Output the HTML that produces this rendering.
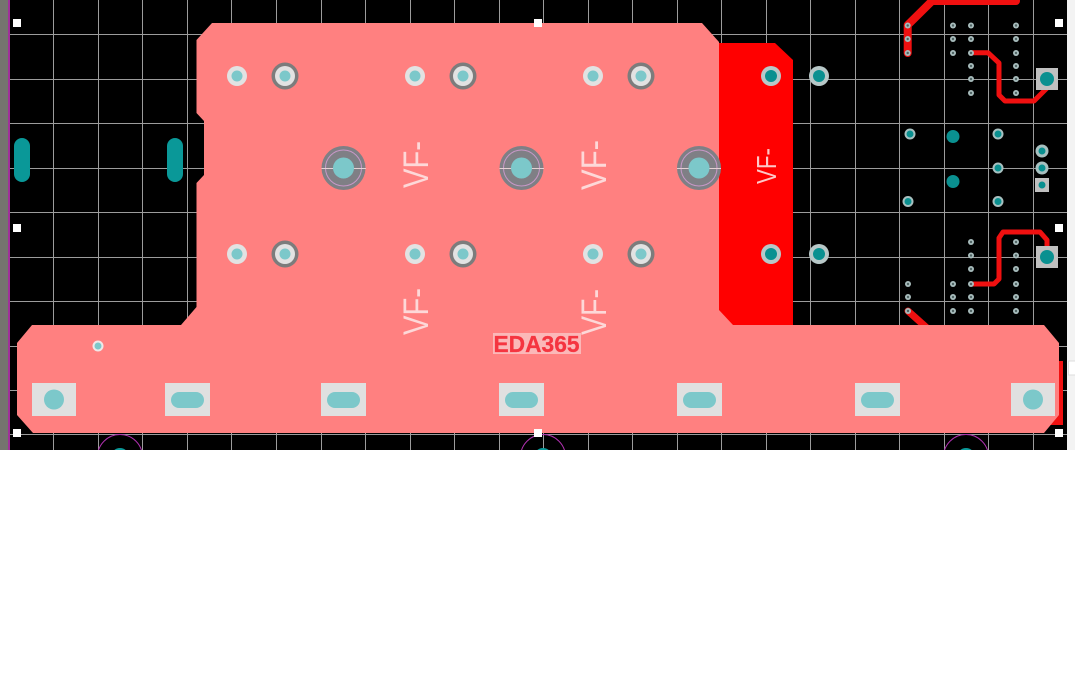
<!DOCTYPE html>
<html><head><meta charset="utf-8"><style>
html,body{margin:0;padding:0;background:#fff;width:1075px;height:687px;overflow:hidden}
svg{display:block;position:absolute;left:0;top:0}
text{font-family:"Liberation Sans",sans-serif}
</style></head><body>
<svg width="1075" height="687" viewBox="0 0 1075 687" xmlns="http://www.w3.org/2000/svg">
<defs><clipPath id="c"><rect x="10" y="0" width="1057" height="450"/></clipPath></defs>
<rect x="0" y="0" width="1075" height="450" fill="#000"/>
<rect x="0" y="0" width="8" height="450" fill="#74746e"/>
<rect x="8" y="0" width="2" height="450" fill="#a0309a"/>
<rect x="1067" y="0" width="8" height="450" fill="#f3f3f3"/>
<rect x="1068.500" y="361" width="7" height="14" fill="#fff" stroke="#ddd"/>
<g stroke="#9c9c9c" stroke-width="1" shape-rendering="crispEdges">
<path d="M53.500 0V450M98.500 0V450M142.500 0V450M187.500 0V450M231.500 0V450M276.500 0V450M321.500 0V450M365.500 0V450M410.500 0V450M454.500 0V450M499.500 0V450M543.500 0V450M588.500 0V450M632.500 0V450M677.500 0V450M721.500 0V450M766.500 0V450M810.500 0V450M855.500 0V450M899.500 0V450M944.500 0V450M988.500 0V450M1033.500 0V450"/>
<path d="M10 34.500H1067M10 79.500H1067M10 123.500H1067M10 168.500H1067M10 212.500H1067M10 257.500H1067M10 301.500H1067M10 346.500H1067M10 390.500H1067M10 434.500H1067"/>
</g>
<g clip-path="url(#c)">
<circle cx="120" cy="457" r="22.500" fill="none" stroke="#b030b0" stroke-width="1"/>
<circle cx="543" cy="457" r="22.500" fill="none" stroke="#b030b0" stroke-width="1"/>
<circle cx="966" cy="457" r="22.500" fill="none" stroke="#b030b0" stroke-width="1"/>
<circle cx="120" cy="457" r="9" fill="#0a9898"/>
<circle cx="543" cy="457" r="9" fill="#0a9898"/>
<circle cx="966" cy="457" r="9" fill="#0a9898"/>
</g>
<rect x="14" y="138" width="16" height="44" rx="8" fill="#0a9898"/>
<rect x="167" y="138" width="16" height="44" rx="8" fill="#0a9898"/>
<!-- red copper -->
<polygon points="719,43 775,43 793,60 793,330 719,330" fill="#ff0000"/>
<polygon points="1059,361 1063,361 1063,425 1045,425 1044,410" fill="#f01010"/>
<!-- traces -->
<g fill="none" stroke="#f01010" stroke-linejoin="round" stroke-linecap="round">
<path d="M907.700 53V25L932 1H1016" stroke-width="8"/>
<path d="M971 52.700H988L999 63V95L1005 101H1034L1047 88" stroke-width="5"/>
<path d="M971 284H994L999 279V238L1003 232H1040L1047 240V252" stroke-width="5"/>
<path d="M908 311L927 328" stroke-width="7"/>
</g>
<!-- pour -->
<polygon points="212,23 702,23 719,42 719,310 733,325 1044,325 1059,343 1059,415 1044,433 33,433 17,415 17,343 32,325 181,325 196.500,307 196.500,183 204,175 204,121 196.500,113 196.500,40" fill="#ff8080"/>
<!-- plated pads on pour -->
<g>
<g fill="#e2e2e2"><circle cx="237" cy="76" r="10"/><circle cx="415" cy="76" r="10"/><circle cx="593" cy="76" r="10"/><circle cx="237" cy="254" r="10"/><circle cx="415" cy="254" r="10"/><circle cx="593" cy="254" r="10"/></g>
<g fill="#7c7c7c"><circle cx="285" cy="76" r="13.500"/><circle cx="463" cy="76" r="13.500"/><circle cx="641" cy="76" r="13.500"/><circle cx="285" cy="254" r="13.500"/><circle cx="463" cy="254" r="13.500"/><circle cx="641" cy="254" r="13.500"/></g>
<g fill="#e2e2e2"><circle cx="285" cy="76" r="10"/><circle cx="463" cy="76" r="10"/><circle cx="641" cy="76" r="10"/><circle cx="285" cy="254" r="10"/><circle cx="463" cy="254" r="10"/><circle cx="641" cy="254" r="10"/></g>
<g fill="#7cc8ca"><circle cx="237" cy="76" r="5.500"/><circle cx="285" cy="76" r="5.500"/><circle cx="415" cy="76" r="5.500"/><circle cx="463" cy="76" r="5.500"/><circle cx="593" cy="76" r="5.500"/><circle cx="641" cy="76" r="5.500"/><circle cx="237" cy="254" r="5.500"/><circle cx="285" cy="254" r="5.500"/><circle cx="415" cy="254" r="5.500"/><circle cx="463" cy="254" r="5.500"/><circle cx="593" cy="254" r="5.500"/><circle cx="641" cy="254" r="5.500"/></g>
<g fill="#7f7f85"><circle cx="343.500" cy="168" r="22"/><circle cx="521.500" cy="168" r="22"/><circle cx="699" cy="168" r="22"/></g>
<g fill="none" stroke="#c898c8" stroke-width="1"><circle cx="343.500" cy="168" r="18"/><circle cx="521.500" cy="168" r="18"/><circle cx="699" cy="168" r="18"/></g>
<g stroke="#e4d0d4" stroke-width="1"><path d="M321.500 168.500H366M499.500 168.500H544M677 168.500H721"/></g>
<g fill="#7cc8ca"><circle cx="343.500" cy="168" r="10.500"/><circle cx="521.500" cy="168" r="10.500"/><circle cx="699" cy="168" r="10.500"/></g>
</g>
<!-- pads in red -->
<g fill="#b8c8c8"><circle cx="771" cy="76" r="10"/><circle cx="819" cy="76" r="10"/><circle cx="771" cy="254" r="10"/><circle cx="819" cy="254" r="10"/></g>
<g fill="#0a9090"><circle cx="771" cy="76" r="6"/><circle cx="819" cy="76" r="6"/><circle cx="771" cy="254" r="6"/><circle cx="819" cy="254" r="6"/></g>
<!-- small via on pour -->
<circle cx="98" cy="346" r="5.500" fill="#f0e8e8"/><circle cx="98" cy="346" r="3.500" fill="#7cc8ca"/>
<!-- bottom pads -->
<g fill="#e0e0e0"><rect x="32" y="383" width="44" height="33"/><rect x="165" y="383" width="45" height="33"/><rect x="321" y="383" width="45" height="33"/><rect x="499" y="383" width="45" height="33"/><rect x="677" y="383" width="45" height="33"/><rect x="855" y="383" width="45" height="33"/><rect x="1011" y="383" width="44" height="33"/></g>
<g fill="#7cc8ca"><circle cx="54" cy="399.500" r="10"/><rect x="171" y="392" width="33" height="16" rx="8"/><rect x="327" y="392" width="33" height="16" rx="8"/><rect x="505" y="392" width="33" height="16" rx="8"/><rect x="683" y="392" width="33" height="16" rx="8"/><rect x="861" y="392" width="33" height="16" rx="8"/><circle cx="1033" cy="399.500" r="10"/></g>
<!-- small vias right -->
<g fill="#a8bcbc">
<circle cx="907.700" cy="25.500" r="3"/><circle cx="907.700" cy="39" r="3"/><circle cx="907.700" cy="53" r="3"/>
<circle cx="953" cy="25.500" r="3"/><circle cx="953" cy="39" r="3"/><circle cx="953" cy="53" r="3"/>
<circle cx="971" cy="25.500" r="3"/><circle cx="971" cy="39" r="3"/><circle cx="971" cy="53" r="3"/><circle cx="971" cy="66" r="3"/><circle cx="971" cy="79" r="3"/><circle cx="971" cy="93" r="3"/>
<circle cx="1016" cy="25.500" r="3"/><circle cx="1016" cy="39" r="3"/><circle cx="1016" cy="53" r="3"/><circle cx="1016" cy="66" r="3"/><circle cx="1016" cy="79" r="3"/><circle cx="1016" cy="93" r="3"/>
<circle cx="971" cy="242" r="3"/><circle cx="971" cy="255.500" r="3"/><circle cx="971" cy="269" r="3"/><circle cx="971" cy="284" r="3"/><circle cx="971" cy="297" r="3"/><circle cx="971" cy="311" r="3"/>
<circle cx="1016" cy="242" r="3"/><circle cx="1016" cy="255.500" r="3"/><circle cx="1016" cy="269" r="3"/><circle cx="1016" cy="284" r="3"/><circle cx="1016" cy="297" r="3"/><circle cx="1016" cy="311" r="3"/>
<circle cx="953" cy="284" r="3"/><circle cx="953" cy="297" r="3"/><circle cx="953" cy="311" r="3"/>
<circle cx="908" cy="284" r="3"/><circle cx="908" cy="297" r="3"/><circle cx="908" cy="311" r="3"/>
</g>
<g fill="#506464">
<circle cx="907.700" cy="25.500" r="1.200"/><circle cx="907.700" cy="39" r="1.200"/><circle cx="907.700" cy="53" r="1.200"/>
<circle cx="953" cy="25.500" r="1.200"/><circle cx="953" cy="39" r="1.200"/><circle cx="953" cy="53" r="1.200"/>
<circle cx="971" cy="25.500" r="1.200"/><circle cx="971" cy="39" r="1.200"/><circle cx="971" cy="53" r="1.200"/><circle cx="971" cy="66" r="1.200"/><circle cx="971" cy="79" r="1.200"/><circle cx="971" cy="93" r="1.200"/>
<circle cx="1016" cy="25.500" r="1.200"/><circle cx="1016" cy="39" r="1.200"/><circle cx="1016" cy="53" r="1.200"/><circle cx="1016" cy="66" r="1.200"/><circle cx="1016" cy="79" r="1.200"/><circle cx="1016" cy="93" r="1.200"/>
<circle cx="971" cy="242" r="1.200"/><circle cx="971" cy="255.500" r="1.200"/><circle cx="971" cy="269" r="1.200"/><circle cx="971" cy="284" r="1.200"/><circle cx="971" cy="297" r="1.200"/><circle cx="971" cy="311" r="1.200"/>
<circle cx="1016" cy="242" r="1.200"/><circle cx="1016" cy="255.500" r="1.200"/><circle cx="1016" cy="269" r="1.200"/><circle cx="1016" cy="284" r="1.200"/><circle cx="1016" cy="297" r="1.200"/><circle cx="1016" cy="311" r="1.200"/>
<circle cx="953" cy="284" r="1.200"/><circle cx="953" cy="297" r="1.200"/><circle cx="953" cy="311" r="1.200"/>
<circle cx="908" cy="284" r="1.200"/><circle cx="908" cy="297" r="1.200"/><circle cx="908" cy="311" r="1.200"/>
</g>
<!-- larger right pads -->
<g fill="#c0c0c0"><rect x="1036" y="68" width="22" height="22"/><rect x="1036" y="246" width="22" height="22"/><rect x="1035" y="178" width="14" height="14"/></g>
<g fill="#a8c0c0"><circle cx="910" cy="134" r="5.500"/><circle cx="998" cy="134" r="5.500"/><circle cx="998" cy="168" r="5.500"/><circle cx="908" cy="201.500" r="5.500"/><circle cx="998" cy="201.500" r="5.500"/><circle cx="1042" cy="151" r="6.500"/><circle cx="1042" cy="168" r="6.500"/></g>
<g fill="#0a9090"><circle cx="1047" cy="79" r="7"/><circle cx="1047" cy="257" r="7"/><circle cx="1042" cy="185" r="3.500"/><circle cx="910" cy="134" r="3.500"/><circle cx="998" cy="134" r="3.500"/><circle cx="998" cy="168" r="3.500"/><circle cx="908" cy="201.500" r="3.500"/><circle cx="998" cy="201.500" r="3.500"/><circle cx="1042" cy="151" r="3.500"/><circle cx="1042" cy="168" r="3.500"/><circle cx="953" cy="136.500" r="6.500"/><circle cx="953" cy="181.500" r="6.500"/></g>
<!-- text -->
<g font-size="35" fill="#fdd8d8">
<text transform="translate(428,188) rotate(-90)" textLength="47" lengthAdjust="spacingAndGlyphs">VF-</text>
<text transform="translate(606,190) rotate(-90)" textLength="50" lengthAdjust="spacingAndGlyphs">VF-</text>
<text transform="translate(428,335) rotate(-90)" textLength="47" lengthAdjust="spacingAndGlyphs">VF-</text>
<text transform="translate(606,335) rotate(-90)" textLength="46" lengthAdjust="spacingAndGlyphs">VF-</text>
</g>
<text transform="translate(776,184) rotate(-90)" font-size="28" fill="#fdc8c8" textLength="36" lengthAdjust="spacingAndGlyphs">VF-</text>
<rect x="493" y="333" width="88" height="21" fill="#fbb8b8"/>
<text x="493.500" y="352" font-size="23" font-weight="bold" fill="#f53540" stroke="#f53540" stroke-width="0.3" textLength="86" lengthAdjust="spacingAndGlyphs">EDA365</text>
<!-- handles -->
<g fill="#fff"><rect x="13" y="19" width="8" height="8"/><rect x="534" y="19" width="8" height="8"/><rect x="1055" y="19" width="8" height="8"/><rect x="13" y="224" width="8" height="8"/><rect x="1055" y="224" width="8" height="8"/><rect x="13" y="429" width="8" height="8"/><rect x="534" y="429" width="8" height="8"/><rect x="1055" y="429" width="8" height="8"/></g>
</svg>
</body></html>
